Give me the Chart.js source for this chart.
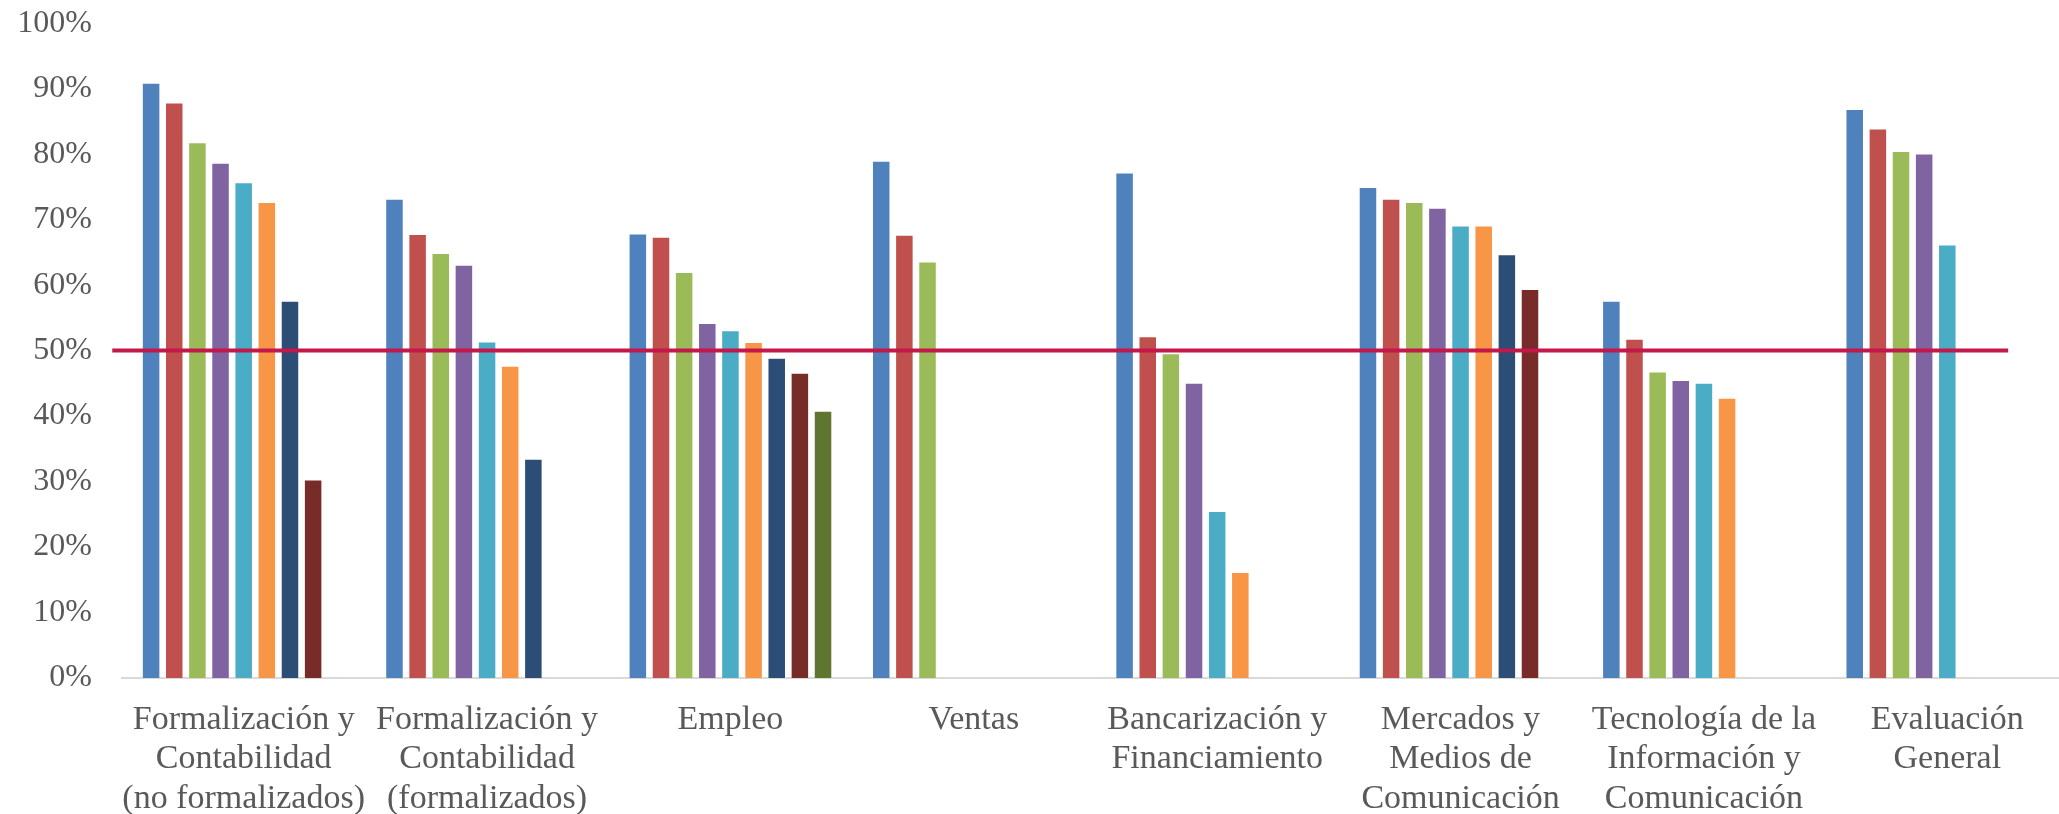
<!DOCTYPE html>
<html lang="es">
<head>
<meta charset="utf-8">
<title>Evaluación por área</title>
<script src="https://cdn.jsdelivr.net/npm/chart.js@4/dist/chart.umd.min.js"></script>
<style>
  html, body { margin: 0; padding: 0; background: #ffffff; overflow: hidden; }
  #wrap { position: relative; width: 2069px; height: 844px; margin-top: -26px; }
</style>
</head>
<body>
<div id="wrap"><canvas id="chart"></canvas></div>
<script>
// Areas evaluated (x axis categories)
const categories = [
  ["Formalización y", "Contabilidad", "(no formalizados)"],
  ["Formalización y", "Contabilidad", "(formalizados)"],
  "Empleo",
  "Ventas",
  ["Bancarización y", "Financiamiento"],
  ["Mercados y", "Medios de", "Comunicación"],
  ["Tecnología de la", "Información y", "Comunicación"],
  ["Evaluación", "General"]
];

// Share of compliance per indicator (%), one array per series; null = no indicator
const serie1 = [90.9, 73.2, 67.9, 79.0, 77.2, 75.0, 57.6, 86.9];
const serie2 = [87.9, 67.8, 67.4, 67.7, 52.2, 73.2, 51.8, 83.9];
const serie3 = [81.8, 64.9, 62.0, 63.6, 49.6, 72.7, 46.8, 80.5];
const serie4 = [78.7, 63.1, 54.2, null, 45.1, 71.8, 45.5, 80.1];
const serie5 = [75.7, 51.4, 53.1, null, 25.5, 69.1, 45.1, 66.2];
const serie6 = [72.7, 47.7, 51.3, null, 16.2, 69.1, 42.8, null];
const serie7 = [57.6, 33.5, 48.9, null, null, 64.7, null, null];
const serie8 = [30.3, null, 46.6, null, null, 59.4, null, null];
const serie9 = [null, null, 40.8, null, null, null, null, null];

// Reference threshold and the span it covers, in category units
const threshold = 50;
const thresholdSpan = [-0.54, 7.25];

// Value axis ticks
const yTicks = [0, 10, 20, 30, 40, 50, 60, 70, 80, 90, 100];

const seriesValues = [serie1, serie2, serie3, serie4, serie5, serie6, serie7, serie8, serie9];
const seriesColors = ['#4F81BD', '#C0504D', '#9BBB59', '#8064A2', '#4BACC6',
                      '#F79646', '#2C4D75', '#772C2A', '#5F7530'];

const barSets = seriesValues.map((vals, i) => ({
  label: 'Serie ' + (i + 1),
  data: vals,
  backgroundColor: seriesColors[i],
  borderColor: 'rgba(255,255,255,0.45)',
  borderWidth: 1,
  categoryPercentage: 0.856,
  barPercentage: 0.80
}));

// Horizontal threshold drawn over the bars, positioned through the chart's own scales
const thresholdLine = {
  id: 'thresholdLine',
  afterDatasetsDraw(chart) {
    const { ctx, scales: { x, y } } = chart;
    const yPx = y.getPixelForValue(threshold);
    ctx.save();
    ctx.strokeStyle = '#C4174A';
    ctx.lineWidth = 4;
    ctx.beginPath();
    ctx.moveTo(x.getPixelForValue(thresholdSpan[0]), yPx);
    ctx.lineTo(x.getPixelForValue(thresholdSpan[1]), yPx);
    ctx.stroke();
    ctx.restore();
  }
};

const serif = "'Liberation Serif', 'Times New Roman', serif";

new Chart(document.getElementById('chart'), {
  type: 'bar',
  data: { labels: categories, datasets: barSets },
  plugins: [thresholdLine],
  options: {
    responsive: true,
    maintainAspectRatio: false,
    animation: false,
    layout: { padding: { left: 17, top: 2, right: 0, bottom: 0 } },
    plugins: { legend: { display: false }, tooltip: { enabled: false } },
    scales: {
      x: {
        grid: { display: false, drawTicks: false },
        border: { display: true, color: '#D9D9D9', width: 2 },
        afterFit: axis => { axis.height = 140; },
        ticks: {
          color: '#595959',
          font: { family: serif, size: 34, lineHeight: 1.16 },
          padding: 22,
          maxRotation: 0,
          autoSkip: false
        }
      },
      y: {
        min: 0,
        max: 100,
        grid: { display: false, drawTicks: false },
        border: { display: false },
        afterFit: axis => { axis.width = 105; },
        afterBuildTicks: axis => { axis.ticks = yTicks.map(v => ({ value: v })); },
        ticks: {
          color: '#595959',
          font: { family: serif, size: 32, lineHeight: 1.2 },
          padding: 30,
          callback: v => v + '%'
        }
      }
    }
  }
});
</script>
</body>
</html>
